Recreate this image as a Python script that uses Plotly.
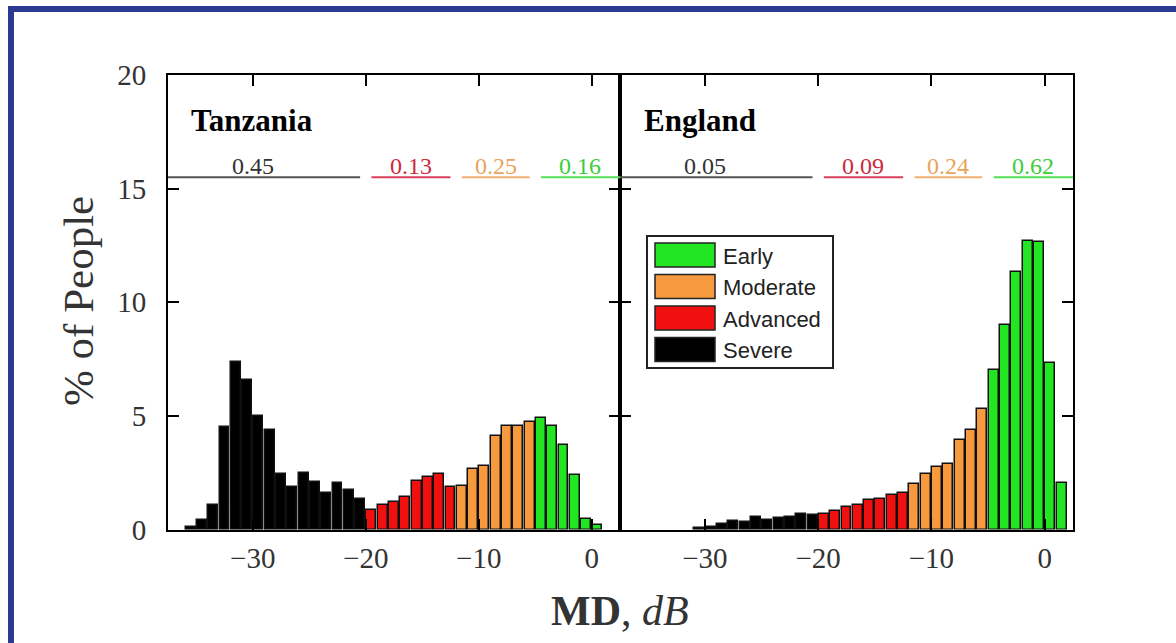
import plotly.graph_objects as go

# ---------------- data ----------------
tanzania_md = [-35.5, -34.5, -33.5, -32.5, -31.5, -30.5, -29.5, -28.5, -27.5, -26.5,
               -25.5, -24.5, -23.5, -22.5, -21.5, -20.5, -19.5, -18.5, -17.5, -16.5,
               -15.5, -14.5, -13.5, -12.5, -11.5, -10.5, -9.5, -8.5, -7.5, -6.5,
               -5.5, -4.5, -3.5, -2.5, -1.5, -0.5, 0.5]
tanzania_pct = [0.1, 0.43, 1.1, 4.5, 7.35, 6.6, 5.0, 4.4, 2.43, 1.88,
                2.5, 2.09, 1.62, 2.03, 1.76, 1.35, 0.85, 1.1, 1.19, 1.44,
                2.13, 2.31, 2.45, 1.85, 1.91, 2.65, 2.78, 4.1, 4.57, 4.57,
                4.72, 4.9, 4.57, 3.72, 2.38, 0.48, 0.19]

england_md = [-30.5, -29.5, -28.5, -27.5, -26.5, -25.5, -24.5, -23.5, -22.5, -21.5,
              -20.5, -19.5, -18.5, -17.5, -16.5, -15.5, -14.5, -13.5, -12.5, -11.5,
              -10.5, -9.5, -8.5, -7.5, -6.5, -5.5, -4.5, -3.5, -2.5, -1.5,
              -0.5, 0.5, 1.5]
england_pct = [0.07, 0.1, 0.26, 0.38, 0.34, 0.53, 0.44, 0.51, 0.56, 0.67,
               0.66, 0.7, 0.81, 0.97, 1.08, 1.3, 1.36, 1.52, 1.62, 1.99,
               2.45, 2.73, 2.88, 3.95, 4.39, 5.32, 7.04, 9.02, 11.34, 12.68,
               12.63, 7.33, 2.04]

stages = ["Severe", "Advanced", "Moderate", "Early"]
stage_bounds = [-40, -20, -12, -5, 3]          # MD limits of each stage
stage_colors = ["#000000", "#f01010", "#f79a3e", "#22e622"]
line_colors = ["#555555", "#d8405a", "#f2b070", "#55dd55"]
text_colors = ["#333333", "#cc2a3c", "#e8a45c", "#3ccc3c"]
tanzania_frac = ["0.45", "0.13", "0.25", "0.16"]
england_frac = ["0.05", "0.09", "0.24", "0.62"]
panels = ["Tanzania", "England"]

x_range = [-37.5, 2.5]
y_range = [0, 20]
x_ticks = [-30, -20, -10, 0]
y_ticks = [0, 5, 10, 15, 20]

W, H = 1176, 643
SERIF = "Liberation Serif, Times New Roman, serif"
SANS = "Liberation Sans, Arial, sans-serif"

def px_x(p):
    return p / W

def px_y(p):
    return 1 - p / H

def stage_of(md):
    for i in range(4):
        if stage_bounds[i] <= md < stage_bounds[i + 1]:
            return i
    return 3

fig = go.Figure()

datasets = [(tanzania_md, tanzania_pct, tanzania_frac), (england_md, england_pct, england_frac)]
axis_ids = [("x", "y"), ("x2", "y2")]

for (mds, pcts, fracs), (xa, ya) in zip(datasets, axis_ids):
    for s in range(4):
        xs = [m for m in mds if stage_of(m) == s]
        ys = [p for m, p in zip(mds, pcts) if stage_of(m) == s]
        fig.add_trace(go.Bar(
            x=xs, y=ys, xaxis=xa, yaxis=ya, width=0.88,
            marker=dict(color=stage_colors[s], line=dict(color="#111111", width=1.5)),
            name=stages[s], showlegend=False,
        ))
    # stage fraction lines and labels
    for s in range(4):
        x0 = max(stage_bounds[s] + 0.5, x_range[0])
        x1 = min(stage_bounds[s + 1] - 0.5, x_range[1])
        fig.add_shape(type="line", xref=xa, yref=ya, x0=x0, x1=x1, y0=15.5, y1=15.5,
                      line=dict(color=line_colors[s], width=2))
        fig.add_annotation(xref=xa, yref=ya, x=(stage_bounds[s] + stage_bounds[s + 1]) / 2,
                           y=15.35, yanchor="bottom", xanchor="center", showarrow=False,
                           text=fracs[s], font=dict(family=SERIF, size=24, color=text_colors[s]))

for i, (xa, ya) in enumerate(axis_ids):
    fig.add_annotation(xref=xa, yref=ya, x=-35.6, y=18.0, xanchor="left", yanchor="middle",
                       showarrow=False, text="<b>%s</b>" % panels[i],
                       font=dict(family=SERIF, size=31, color="#000000"))

axis_common = dict(showline=True, linecolor="#000000", linewidth=2, mirror="allticks",
                   ticks="inside", ticklen=11, tickwidth=2, tickcolor="#000000",
                   showgrid=False, zeroline=False, automargin=False)

L0, MID, R1 = 168, 620, 1073
T0, B0 = 75, 529.5

tick_font = dict(family=SERIF, size=29, color="#333")

fig.update_layout(
    width=W, height=H, margin=dict(l=0, r=0, t=0, b=0, autoexpand=False),
    paper_bgcolor="white", plot_bgcolor="white", bargap=0, showlegend=False,
    xaxis=dict(domain=[px_x(L0), px_x(MID)], range=x_range, tickvals=x_ticks,
               anchor="y", tickfont=tick_font, ticklabelstandoff=2, **axis_common),
    xaxis2=dict(domain=[px_x(MID), px_x(R1)], range=x_range, tickvals=x_ticks,
                anchor="y2", tickfont=tick_font, ticklabelstandoff=2, **axis_common),
    yaxis=dict(domain=[px_y(B0), px_y(T0)], range=y_range, tickvals=y_ticks,
               anchor="x", tickfont=tick_font, ticklabelstandoff=14, **axis_common),
    yaxis2=dict(domain=[px_y(B0), px_y(T0)], range=y_range, tickvals=y_ticks,
                anchor="x2", showticklabels=False, **axis_common),
)

# axis titles
fig.add_annotation(xref="paper", yref="paper", x=px_x(78), y=px_y(301), textangle=-90,
                   xanchor="center", yanchor="middle",
                   showarrow=False, text="% of People",
                   font=dict(family=SERIF, size=43, color="#333"))
fig.add_annotation(xref="paper", yref="paper", x=px_x(620), y=px_y(611),
                   xanchor="center", yanchor="middle",
                   showarrow=False, text="<b>MD</b>, <i>dB</i>",
                   font=dict(family=SERIF, size=42, color="#333"))

# legend box
leg_x0, leg_x1, leg_y0, leg_y1 = 647, 833, 236, 368
fig.add_shape(type="rect", xref="paper", yref="paper",
              x0=px_x(leg_x0), x1=px_x(leg_x1), y0=px_y(leg_y1), y1=px_y(leg_y0),
              line=dict(color="#222", width=2), fillcolor="white")
leg_order = [3, 2, 1, 0]
for k, s in enumerate(leg_order):
    top = 243 + k * 31.5
    fig.add_shape(type="rect", xref="paper", yref="paper",
                  x0=px_x(655), x1=px_x(715), y0=px_y(top + 24), y1=px_y(top),
                  line=dict(color="#222", width=1.5), fillcolor=stage_colors[s])
    fig.add_annotation(xref="paper", yref="paper", x=px_x(721), y=px_y(top + 13),
                       xanchor="left", yanchor="middle", showarrow=False, text=stages[s],
                       font=dict(family=SANS, size=22, color="#222"))

# outer blue frame
fig.add_shape(type="rect", xref="paper", yref="paper",
              x0=px_x(11), x1=1.05, y0=-0.05, y1=px_y(9),
              line=dict(color="#2b3990", width=6), fillcolor="rgba(0,0,0,0)", layer="above")

fig.write_html("out.html")
